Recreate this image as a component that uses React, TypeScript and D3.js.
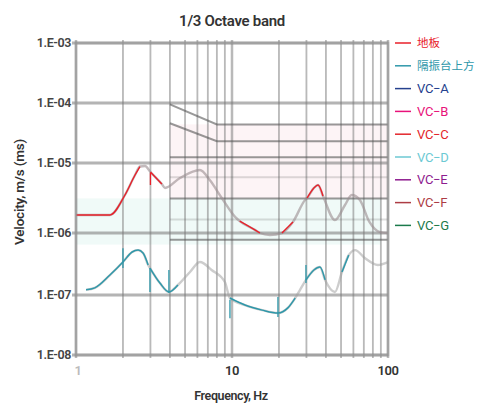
import React from "react";
import * as d3 from "d3";

const W = 477;
const H = 403;

const TITLE = "1/3 Octave band";
const X_LABEL = "Frequency, Hz";
const Y_LABEL = "Velocity, m/s (ms)";

const X_TICKS = [1, 10, 100];
const X_TICK_LABELS = ["1", "10", "100"];
const Y_TICKS = [1e-3, 1e-4, 1e-5, 1e-6, 1e-7, 1e-8];
const Y_TICK_LABELS = ["1.E-03", "1.E-04", "1.E-05", "1.E-06", "1.E-07", "1.E-08"];

// 地板 (floor)
const FLOOR_F = [1, 1.65, 2.06, 2.39, 2.57, 2.77, 3.0, 3.55, 3.72, 4.64, 6.23, 7.2, 8.6, 10.5, 11.2, 14.1, 15.1, 17.5, 20.9, 24.6, 29.4, 30.3, 33.5, 35.6, 38.3, 45.7, 53, 58.5, 66, 76, 89, 100];
const FLOOR_V = [1.81e-6, 1.81e-6, 3.49e-6, 6.74e-6, 8.9e-6, 9.06e-6, 7.43e-6, 5.0e-6, 4.4e-6, 6.1e-6, 7.94e-6, 5.7e-6, 3.16e-6, 1.69e-6, 1.48e-6, 1.1e-6, 1.0e-6, 9.3e-7, 1.0e-6, 1.44e-6, 2.96e-6, 3.16e-6, 4.4e-6, 4.85e-6, 3.38e-6, 1.53e-6, 2.51e-6, 3.49e-6, 2.96e-6, 1.44e-6, 1.03e-6, 1.0e-6];
const FLOOR_COLORED = [[1, 2.57], [3.0, 3.55], [11.2, 15.1], [20.9, 24.6], [30.3, 38.3]];
const FLOOR_TICK_F = [3.0];
const FLOOR_TICK_LO = [4.85e-6];
const FLOOR_TICK_HI = [7.2e-6];

// 隔振台上方 (above isolation table)
const TABLE_F = [1.16, 1.32, 1.65, 2.0, 2.29, 2.5, 2.69, 2.9, 2.98, 3.45, 3.94, 4.5, 5.38, 6.23, 7.4, 9.0, 9.7, 12.1, 15.6, 19.7, 22.8, 25.4, 27.3, 29.8, 33.5, 36.6, 39.5, 45.7, 50.7, 56, 61.6, 71, 86, 100];
const TABLE_V = [1.21e-7, 1.3e-7, 2.1e-7, 3.4e-7, 4.94e-7, 5.3e-7, 4.75e-7, 3.05e-7, 2.72e-7, 1.56e-7, 1.12e-7, 1.45e-7, 2.35e-7, 3.4e-7, 2.53e-7, 1.62e-7, 8.9e-8, 6.8e-8, 5.6e-8, 5.0e-8, 6.1e-8, 8.9e-8, 1.21e-7, 1.75e-7, 2.53e-7, 2.83e-7, 1.75e-7, 1.12e-7, 2.35e-7, 4.4e-7, 5.3e-7, 3.95e-7, 3.05e-7, 3.4e-7];
const TABLE_COLORED = [[1.16, 2.9], [2.98, 4.5], [9.7, 25.4], [29.8, 39.5], [50.7, 56]];
const TABLE_TICK_F = [2.0, 2.98, 3.94, 9.7, 19.7, 29.8];
const TABLE_TICK_LO = [2.72e-7, 1.12e-7, 1.08e-7, 4.1e-8, 4.3e-8, 1.56e-7];
const TABLE_TICK_HI = [5.7e-7, 2.72e-7, 2.53e-7, 8.3e-8, 9.3e-8, 3.05e-7];

// VC criteria (m/s)
const VC_NAMES = ["VC−A", "VC−B", "VC−C", "VC−D", "VC−E", "VC−F", "VC−G"];
const VC_LEVELS = [4.4e-5, 2.3e-5, 1.25e-5, 6.25e-6, 3.12e-6, 1.56e-6, 7.8e-7];
const VC_LOW_F = [4, 4, 4, 4, 4, 4, 4];
const VC_LOW_V = [9.5e-5, 4.6e-5, 1.25e-5, 6.25e-6, 3.12e-6, 1.56e-6, 7.8e-7];
const VC_KNEE_F = 8;
const VC_END_F = 100;

const LEGEND_NAMES = ["地板", "隔振台上方", ...VC_NAMES];
const LEGEND_COLORS = ["#e8202a", "#2f98aa", "#25418e", "#e8127a", "#e3262c", "#6cc9d3", "#8e1c8f", "#ad3c44", "#1b7a4b"];

// faint tint bands [f0, f1, vTop, vBottom]
const BAND_PINK = [4, 100, 4.4e-5, 3.12e-6];
const BAND_CYAN = [1, 90, 3.12e-6, 6.5e-7];

const X0 = 76, X1 = 388;
const Y_PIX = [43, 103, 163, 233, 295, 355];

export default function App() {
  const x = d3.scaleLog().domain([1, 100]).range([X0, X1]);
  const y = d3.scaleLog().domain(Y_TICKS).range(Y_PIX);
  const Y0 = Y_PIX[0], Y1 = Y_PIX[Y_PIX.length - 1];

  const minorF: number[] = [];
  for (let d = 1; d <= 10; d *= 10) for (let k = 1; k <= 10; k++) minorF.push(d * k);
  const uniqF = Array.from(new Set(minorF));

  const line = d3
    .line<[number, number]>()
    .x((p) => x(p[0]))
    .y((p) => y(p[1]))
    .curve(d3.curveMonotoneX);

  const pts = (F: number[], V: number[]) => F.map((f, i) => [f, V[i]] as [number, number]);
  const floorPts = pts(FLOOR_F, FLOOR_V);
  const tablePts = pts(TABLE_F, TABLE_V);

  const segs = (P: [number, number][], ranges: number[][]) =>
    ranges.map((r) => P.filter((p) => p[0] >= r[0] - 1e-9 && p[0] <= r[1] + 1e-9));

  const vcPath = (i: number) =>
    d3.line<[number, number]>().x((p) => x(p[0])).y((p) => y(p[1]))([
      [VC_LOW_F[i], VC_LOW_V[i]],
      [VC_KNEE_F, VC_LEVELS[i]],
      [VC_END_F, VC_LEVELS[i]],
    ]) as string;

  const font = "Roboto, 'DejaVu Sans', sans-serif";
  const cjk = "'Noto Sans CJK SC', sans-serif";

  return (
    <svg width={W} height={H} style={{ position: "absolute", left: 0, top: 0, background: "#fff" }} fontFamily={font}>
      {/* tint bands */}
      <rect x={x(BAND_PINK[0])} y={y(BAND_PINK[2])} width={x(BAND_PINK[1]) - x(BAND_PINK[0])} height={y(BAND_PINK[3]) - y(BAND_PINK[2])} fill="#fcebef" opacity={0.55} />
      <rect x={x(BAND_CYAN[0])} y={y(BAND_CYAN[2])} width={x(BAND_CYAN[1]) - x(BAND_CYAN[0])} height={y(BAND_CYAN[3]) - y(BAND_CYAN[2])} fill="#e4f6f2" opacity={0.55} />

      {/* vertical grid */}
      {uniqF.map((f) => (
        <line key={"v" + f} x1={x(f)} x2={x(f)} y1={Y0 - 3} y2={Y1 + 3} stroke="#808080" strokeWidth={X_TICKS.includes(f) ? 2.5 : 1.8} opacity={0.55} />
      ))}
      {/* horizontal decade grid */}
      {Y_TICKS.map((v) => (
        <line key={"h" + v} x1={X0 - 4} x2={X1} y1={y(v)} y2={y(v)} stroke="#777" strokeWidth={3} opacity={0.55} />
      ))}

      {/* VC criteria lines */}
      {VC_LEVELS.map((_, i) => (
        <path key={"vc" + i} d={vcPath(i)} fill="none" stroke="#555" strokeWidth={2} opacity={i === 3 || i === 5 ? 0.2 : 0.6} />
      ))}

      {/* ghost (faded) full curves */}
      <path d={line(floorPts) as string} fill="none" stroke="#9a8c90" strokeWidth={2.4} opacity={0.6} />
      <path d={line(tablePts) as string} fill="none" stroke="#9c9c9c" strokeWidth={2.4} opacity={0.5} />

      {/* coloured segments */}
      {segs(floorPts, FLOOR_COLORED).map((s, i) => (
        <path key={"fs" + i} d={line(s) as string} fill="none" stroke={LEGEND_COLORS[0]} strokeWidth={1.4} />
      ))}
      {segs(tablePts, TABLE_COLORED).map((s, i) => (
        <path key={"ts" + i} d={line(s) as string} fill="none" stroke={LEGEND_COLORS[1]} strokeWidth={1.5} />
      ))}
      {FLOOR_TICK_F.map((f, i) => (
        <line key={"ft" + i} x1={x(f)} x2={x(f)} y1={y(FLOOR_TICK_HI[i])} y2={y(FLOOR_TICK_LO[i])} stroke={LEGEND_COLORS[0]} strokeWidth={1.3} />
      ))}
      {TABLE_TICK_F.map((f, i) => (
        <line key={"tt" + i} x1={x(f)} x2={x(f)} y1={y(TABLE_TICK_HI[i])} y2={y(TABLE_TICK_LO[i])} stroke={LEGEND_COLORS[1]} strokeWidth={1.3} />
      ))}

      {/* frame */}
      <rect x={X0} y={Y0} width={X1 - X0} height={Y1 - Y0} fill="none" stroke="#9a9a9a" strokeWidth={2.5} opacity={0.7} />

      {/* y tick labels */}
      {Y_TICKS.map((v, i) => (
        <text key={"yl" + i} x={71} y={y(v)} dy="0.35em" textAnchor="end" fontSize={12.5} fontWeight={600} fill="#444" letterSpacing={-0.4}>
          {Y_TICK_LABELS[i]}
        </text>
      ))}
      {/* x tick labels */}
      {X_TICKS.map((f, i) => (
        <text key={"xl" + i} x={x(f) + (i === 0 ? 2 : 0)} y={375} textAnchor="middle" fontSize={13} fontWeight={600} fill={i === 0 ? "#bbb" : "#333"} letterSpacing={-0.5}>
          {X_TICK_LABELS[i]}
        </text>
      ))}

      {/* titles */}
      <text x={232} y={26} textAnchor="middle" fontSize={15} fontWeight={600} fill="#333" letterSpacing={-0.3}>
        {TITLE}
      </text>
      <text x={231} y={400} textAnchor="middle" fontSize={12.5} fontWeight={600} fill="#333" letterSpacing={-0.4}>
        {X_LABEL}
      </text>
      <text transform="translate(24,192) rotate(-90)" textAnchor="middle" fontSize={13.5} fontWeight={600} fill="#333" letterSpacing={-0.2}>
        {Y_LABEL}
      </text>

      {/* legend */}
      {LEGEND_NAMES.map((n, i) => {
        const ly = 43 + i * 22.8;
        const isCjk = i < 2;
        return (
          <g key={"lg" + i}>
            <line x1={395} x2={411} y1={ly} y2={ly} stroke={LEGEND_COLORS[i]} strokeWidth={1.5} />
            <text x={417} y={ly} dy="0.36em" fontSize={isCjk ? 11.5 : 13} fontFamily={isCjk ? cjk : font} fill={LEGEND_COLORS[i]} letterSpacing={isCjk ? 0 : -0.3}>
              {n}
            </text>
          </g>
        );
      })}
    </svg>
  );
}
